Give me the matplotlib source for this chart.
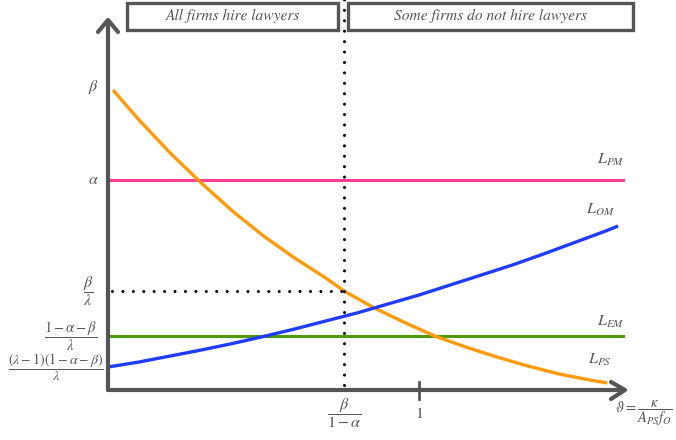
import matplotlib
matplotlib.use("Agg")
import matplotlib.pyplot as plt
from matplotlib.lines import Line2D
from matplotlib.patches import Rectangle

plt.rcParams['mathtext.fontset'] = 'stix'
plt.rcParams['font.family'] = ['STIXGeneral', 'DejaVu Serif']

W, H = 676, 440
GREY = '#555555'

# threshold on the horizontal axis and the levels on the vertical one
theta_star = 0.759
lvl_beta = 3.03
lvl_alpha = 2.10
lvl_beta_lam = 0.99
lvl_em = 0.54
lvl_om0 = 0.23

# L_PS (falling) curve
ps_x = [0.016, 0.1, 0.2, 0.3, 0.4, 0.5, 0.6, 0.7, 0.759, 0.85, 0.95,
        1.05, 1.15, 1.25, 1.35, 1.45, 1.55, 1.605]
ps_y = [3.00, 2.70, 2.37, 2.07, 1.79, 1.54, 1.32, 1.12, 0.99, 0.83, 0.68,
        0.54, 0.43, 0.33, 0.24, 0.16, 0.10, 0.07]
# L_OM (rising) curve
om_x = [0.0, 0.1, 0.2, 0.3, 0.4, 0.5, 0.6, 0.7, 0.8, 0.9, 1.0,
        1.1, 1.2, 1.3, 1.4, 1.5, 1.6, 1.64]
om_y = [0.23, 0.28, 0.34, 0.40, 0.465, 0.535, 0.61, 0.69, 0.77, 0.86, 0.95,
        1.05, 1.15, 1.25, 1.36, 1.475, 1.59, 1.64]

x_end = 1.662
y_top = 3.70

ytick_vals = [lvl_beta, lvl_alpha, lvl_beta_lam, lvl_em, lvl_om0]
ytick_labels = [r'$\beta$', r'$\alpha$', r'$\dfrac{\beta}{\lambda}$',
                r'$\dfrac{1-\alpha-\beta}{\lambda}$',
                r'$\dfrac{(\lambda-1)(1-\alpha-\beta)}{\lambda}$']
ytick_px = [93, 93, 88, 71, 56]
ytick_size = [11.5, 11.5, 11.5, 10.5, 10]
xtick_vals = [theta_star, 1.0]
xtick_labels = [r'$\dfrac{\beta}{1-\alpha}$', r'$1$']

fig = plt.figure(figsize=(W / 100, H / 100), dpi=100)


def fx(px):
    return px / W


def fy(py):
    return 1 - py / H


ax = fig.add_axes([fx(108), fy(390), (625 - 108) / W, (390 - 20) / H])
ax.set_xlim(0, x_end)
ax.set_ylim(0, y_top)
ax.axis('off')

# curves
ax.plot(ps_x, ps_y, color='#ff9a0a', lw=2.4, solid_capstyle='butt',
        solid_joinstyle='round', zorder=3)
ax.plot(om_x, om_y, color='#1f3cff', lw=2.4, solid_capstyle='butt',
        solid_joinstyle='round', zorder=3)
ax.plot([0, x_end], [lvl_alpha, lvl_alpha], color='#ff3d94', lw=2.2, zorder=2)
ax.plot([0, x_end], [lvl_em, lvl_em], color='#4f9a0a', lw=2.2, zorder=2)

# dotted guides
dots = dict(color='black', lw=2.2, linestyle=(0, (0.01, 3.4)),
            dash_capstyle='round', zorder=4)
ax.plot([0.012, theta_star], [lvl_beta_lam, lvl_beta_lam], **dots)
ax.plot([theta_star, theta_star], [0.05, y_top + 0.5], clip_on=False, **dots)

# axes with open arrowheads
axis_kw = dict(color=GREY, lw=3, solid_capstyle='round', transform=fig.transFigure)
fig.add_artist(Line2D([fx(108), fx(108)], [fy(390), fy(21)], **axis_kw))
fig.add_artist(Line2D([fx(108), fx(624)], [fy(390), fy(390)], **axis_kw))
fig.add_artist(Line2D([fx(98), fx(108), fx(118)], [fy(32), fy(20), fy(32)], **axis_kw))
fig.add_artist(Line2D([fx(611), fx(625), fx(611)], [fy(382), fy(390), fy(399)], **axis_kw))
ax.plot([1, 1], [-0.09, 0.08], color=GREY, lw=2, clip_on=False)

# tick labels
txt = dict(color=GREY, fontsize=11.5)
for v, px, sz, lab in zip(ytick_vals, ytick_px, ytick_size, ytick_labels):
    fig.text(fx(px), ax.transData.transform((0, v))[1] / H, lab,
             ha='center', va='center', color=GREY, fontsize=sz)
for v, lab in zip(xtick_vals, xtick_labels):
    ax.text(v, -0.23, lab, ha='center', va='center', **txt)
fig.text(fx(615), fy(413), r'$\vartheta = \dfrac{\kappa}{A_{PS}f_O}$',
         ha='left', va='center', color=GREY, fontsize=10.5)

# curve names
ax.text(1.66, lvl_alpha + 0.2, r'$L_{PM}$', ha='right', va='center', **txt)
ax.text(1.63, 1.80, r'$L_{OM}$', ha='right', va='center', **txt)
ax.text(1.66, lvl_em + 0.14, r'$L_{EM}$', ha='right', va='center', **txt)
ax.text(1.62, 0.30, r'$L_{PS}$', ha='right', va='center', **txt)

# regime boxes
for x0, x1, label in [(127, 338, 'All firms hire lawyers'),
                      (348, 633, 'Some firms do not hire lawyers')]:
    fig.add_artist(Rectangle((fx(x0), fy(30)), fx(x1 - x0), (30 - 3) / H,
                             transform=fig.transFigure, fill=False,
                             edgecolor=GREY, lw=2.4))
    fig.text(fx((x0 + x1) / 2), fy(16), label, ha='center', va='center',
             style='italic', color=GREY, fontsize=11.2)

fig.savefig('out.png', dpi=100)
